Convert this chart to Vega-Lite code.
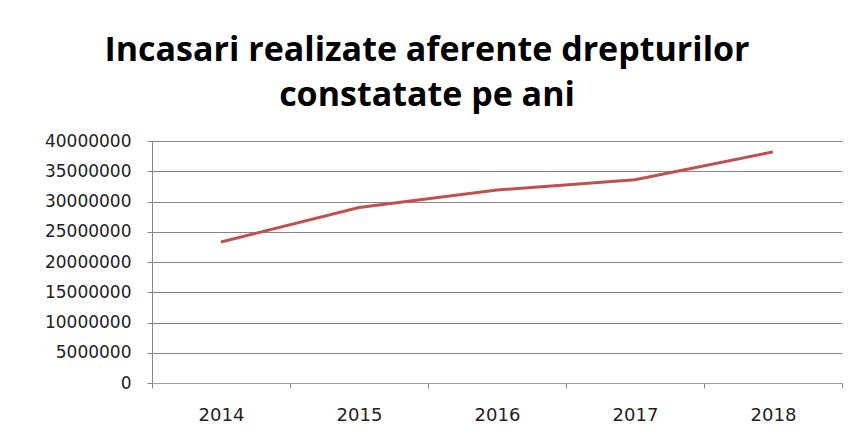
{
  "$schema": "https://vega.github.io/schema/vega-lite/v6.json",
  "autosize": "none",
  "width": 690,
  "height": 242,
  "padding": {"left": 152, "top": 141, "right": 10, "bottom": 59},
  "background": "white",
  "title": {
    "text": ["Incasari realizate aferente drepturilor", "constatate pe ani"],
    "font": "Open Sans",
    "fontSize": 34,
    "fontWeight": "bold",
    "color": "#000000",
    "anchor": "middle",
    "dx": -70,
    "lineHeight": 45,
    "offset": 19
  },
  "data": {
    "values": [
      {"year": "2014", "value": 23300000},
      {"year": "2015", "value": 29000000},
      {"year": "2016", "value": 31900000},
      {"year": "2017", "value": 33600000},
      {"year": "2018", "value": 38200000}
    ]
  },
  "mark": {"type": "line", "color": "#C0504D", "strokeWidth": 3},
  "encoding": {
    "x": {
      "field": "year",
      "type": "ordinal",
      "scale": {"type": "band", "paddingInner": 0, "paddingOuter": 0},
      "axis": {
        "title": null,
        "labelAngle": 0,
        "tickBand": "extent",
        "labelFont": "DejaVu Sans",
        "labelFontSize": 18,
        "labelColor": "#222222",
        "labelPadding": 18,
        "tickSize": 5,
        "tickColor": "#868686",
        "domainColor": "#a0a0a0",
        "grid": false
      }
    },
    "y": {
      "field": "value",
      "type": "quantitative",
      "scale": {"domain": [0, 40000000], "nice": false},
      "axis": {
        "title": null,
        "values": [0, 5000000, 10000000, 15000000, 20000000, 25000000, 30000000, 35000000, 40000000],
        "format": "d",
        "labelFont": "DejaVu Sans",
        "labelFontSize": 17,
        "labelColor": "#222222",
        "labelPadding": 16,
        "tickSize": 5,
        "tickColor": "#868686",
        "domainColor": "#868686",
        "gridColor": "#868686",
        "gridOpacity": 1
      }
    }
  },
  "config": {"view": {"stroke": null}}
}
